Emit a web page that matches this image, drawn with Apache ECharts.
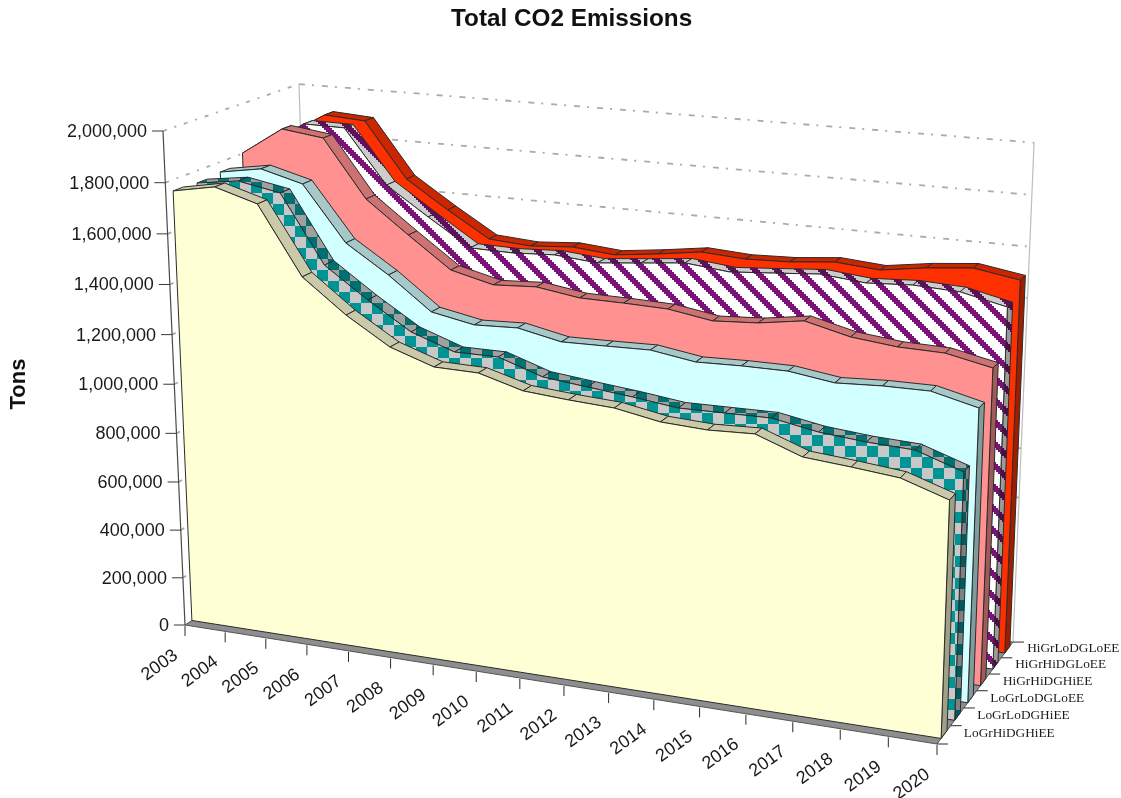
<!DOCTYPE html>
<html>
<head>
<meta charset="utf-8">
<title>Total CO2 Emissions</title>
<script src="https://cdn.jsdelivr.net/npm/echarts@6/dist/echarts.min.js"></script>
<style>
html,body{margin:0;padding:0;background:#fff}
#main{width:1121px;height:798px}
</style>
</head>
<body>
<div id="main"></div>
<script>
var years = [2003,2004,2005,2006,2007,2008,2009,2010,2011,2012,2013,2014,2015,2016,2017,2018,2019,2020];
var tonTicks = [0,200000,400000,600000,800000,1000000,1200000,1400000,1600000,1800000,2000000];
var tonLabels = ['0','200,000','400,000','600,000','800,000','1,000,000','1,200,000','1,400,000','1,600,000','1,800,000','2,000,000'];
var seriesNames = ['LoGrHiDGHiEE','LoGrLoDGHiEE','LoGrLoDGLoEE','HiGrHiDGHiEE','HiGrHiDGLoEE','HiGrLoDGLoEE'];

// 前后顺序和 seriesNames 一致, 最前面的是黄色
var loGrHiDGHiEE = [1757000,1788000,1738000,1471000,1340000,1234000,1176000,1173000,1124000,1110000,1100000,1068000,1059000,1066000,1001000,986000,968000,909000];
var loGrLoDGHiEE = [1752000,1775000,1744000,1476000,1356000,1248000,1188000,1188000,1130000,1111000,1093000,1071000,1073000,1075000,1043000,1027000,1019000,959000];
var loGrLoDGLoEE = [1760000,1788000,1743000,1524000,1413000,1283000,1250000,1257000,1221000,1224000,1228000,1201000,1206000,1206000,1181000,1190000,1191000,1148000];
var hiGrHiDGHiEE = [1802000,1914000,1892000,1662000,1533000,1409000,1367000,1377000,1351000,1349000,1344000,1316000,1327000,1354000,1311000,1292000,1288000,1251000];
var hiGrHiDGLoEE = [1789000,1902000,1900000,1682000,1568000,1458000,1455000,1464000,1449000,1466000,1484000,1466000,1479000,1493000,1476000,1486000,1478000,1438000];
var hiGrLoDGLoEE = [1809000,1907000,1896000,1671000,1559000,1455000,1443000,1456000,1441000,1462000,1487000,1476000,1482000,1499000,1485000,1511000,1528000,1499000];
var seriesValues = [loGrHiDGHiEE,loGrLoDGHiEE,loGrLoDGLoEE,hiGrHiDGHiEE,hiGrHiDGLoEE,hiGrLoDGLoEE];

// 隐藏的 grid 当作 0..1 的单位空间, 再投影到屏幕
var GRID = 700;
var O = [185,625], X = [937,744], Y = [163,131], Z = [313.1,541.5];
var wa = 0.903, wb = 0.9508, wc = 1.085;

function project(u, v, w) {
	var d = 1 + u * (wa - 1) + v * (wb - 1) + w * (wc - 1);
	var x = O[0] + u * (wa * X[0] - O[0]) + v * (wb * Y[0] - O[0]) + w * (wc * Z[0] - O[0]);
	var y = O[1] + u * (wa * X[1] - O[1]) + v * (wb * Y[1] - O[1]) + w * (wc * Z[1] - O[1]);
	return [x / d, y / d];
}

// 通过 echarts 的坐标轴换算, 再加上深度 w
function toScreen(api, year, tons, w) {
	var pt = api.coord([year, tons]);
	return project(pt[0] / GRID, 1 - pt[1] / GRID, w);
}

function checker(c1, c2) {
	var cv = document.createElement('canvas');
	cv.width = cv.height = 22;
	var ctx = cv.getContext('2d');
	ctx.fillStyle = c1;
	ctx.fillRect(0, 0, 22, 22);
	ctx.fillStyle = c2;
	ctx.fillRect(9, 6, 11, 11);
	ctx.fillRect(20, 17, 11, 11);
	ctx.fillRect(-2, 17, 11, 11);
	ctx.fillRect(20, -5, 11, 11);
	ctx.fillRect(-2, -5, 11, 11);
	return { image: cv, repeat: 'repeat' };
}

function hatch(c1, c2) {
	var cv = document.createElement('canvas');
	cv.width = cv.height = 22;
	var ctx = cv.getContext('2d');
	ctx.fillStyle = c1;
	ctx.fillRect(0, 0, 22, 22);
	ctx.fillStyle = c2;
	for (var k = 0; k < 11; k++) {
		ctx.fillRect(k * 2 - 24, k * 2, 8, 2);
		ctx.fillRect(k * 2 - 2, k * 2, 8, 2);
		ctx.fillRect(k * 2 + 20, k * 2, 8, 2);
	}
	return { image: cv, repeat: 'repeat' };
}

var faces = [
	{ face: '#ffffd5', top: '#cacaaa', side: '#a0a088' },
	{ face: checker('#c8c8c8', '#009494'), top: checker('#a0a0a0', '#007070'), side: checker('#808080', '#005c5c') },
	{ face: '#d2ffff', top: '#a6c8c8', side: '#7f9c9c' },
	{ face: '#ff9191', top: '#cc7272', side: '#a05a5a' },
	{ face: hatch('#ffffff', '#7a1278'), top: hatch('#cccccc', '#620e60'), side: hatch('#9a9a9a', '#4e0b4c') },
	{ face: '#ff3000', top: '#cc2600', side: '#a01e00' }
];

var EDGE = '#2b2b2b';

function poly(points, fill, stroke) {
	return {
		type: 'polygon',
		shape: { points: points },
		style: { fill: fill, stroke: stroke === undefined ? EDGE : stroke, lineWidth: 1, lineJoin: 'round' }
	};
}

function line(a, b, color, width, dash) {
	return {
		type: 'line',
		shape: { x1: a[0], y1: a[1], x2: b[0], y2: b[1] },
		style: { stroke: color, lineWidth: width, lineDash: dash || null }
	};
}

function label(x, y, text, font, align, rot) {
	return {
		type: 'text',
		x: x,
		y: y,
		rotation: rot || 0,
		style: { text: text, font: font, fill: '#1a1a1a', align: align, verticalAlign: 'middle' }
	};
}

function renderWalls(params, api) {
	var first = years[0], last = years[years.length - 1];
	var kids = [];
	var corner = function (yr, tons, w) { return toScreen(api, yr, tons, w); };
	var top = tonTicks[tonTicks.length - 1];
	kids.push(poly([corner(first, 0, 0), corner(last, 0, 0), corner(last, 0, 1), corner(first, 0, 1)], '#8e8e8e', '#555'));
	for (var i = 1; i < tonTicks.length; i++) {
		kids.push(line(corner(first, tonTicks[i], 0), corner(first, tonTicks[i], 1), '#aaaaaa', 1.8, [4, 8, 2, 8]));
		kids.push(line(corner(first, tonTicks[i], 1), corner(last, tonTicks[i], 1), '#aaaaaa', 1.8, [6, 7, 2, 8]));
	}
	kids.push(line(corner(first, 0, 1), corner(first, top, 1), '#bdbdbd', 1.2));
	kids.push(line(corner(last, 0, 1), corner(last, top, 1), '#bdbdbd', 1.2));
	return { type: 'group', children: kids };
}

function renderAxes(params, api) {
	var first = years[0], last = years[years.length - 1];
	var top = tonTicks[tonTicks.length - 1];
	var kids = [];
	var i, p;
	kids.push(line(toScreen(api, first, 0, 0), toScreen(api, first, top, 0), '#4a4a4a', 1.2));
	for (i = 0; i < tonTicks.length; i++) {
		p = toScreen(api, first, tonTicks[i], 0);
		kids.push(line([p[0] - 11, p[1]], p, '#3a3a3a', 1));
		kids.push(label(p[0] - 16, p[1] + 1, tonLabels[i], '18px "Liberation Sans"', 'right'));
	}
	for (i = 0; i < years.length; i++) {
		p = toScreen(api, years[i], 0, 0);
		kids.push(line([p[0], p[1] + 1], [p[0], p[1] + 11], '#2a2a2a', 1));
		kids.push(label(p[0] - 9, p[1] + 28.5, String(years[i]), '18px "Liberation Sans"', 'right', 36 * Math.PI / 180));
	}
	for (i = 0; i <= seriesNames.length; i++) {
		p = toScreen(api, last, 0, i / seriesNames.length);
		kids.push(line(p, [p[0] + 11, p[1]], '#2a2a2a', 1));
		if (i < seriesNames.length) {
			var c = toScreen(api, last, 0, (i + 0.5) / seriesNames.length);
			kids.push(label(c[0] + 20, c[1] - 1, seriesNames[i], '13.3px "Liberation Serif"', 'left'));
		}
	}
	return { type: 'group', children: kids };
}

function makeRibbon(idx) {
	var vals = seriesValues[idx];
	var look = faces[idx];
	var w0 = (idx + 0.3) / seriesNames.length;
	var w1 = (idx + 0.73) / seriesNames.length;
	return function (params, api) {
		// 整条带子只在最后一个点画一次
		if (params.dataIndex !== vals.length - 1) {
			return;
		}
		var kids = [];
		var front = [], back = [];
		for (var j = 0; j < vals.length; j++) {
			front.push(toScreen(api, years[j], vals[j], w0));
			back.push(toScreen(api, years[j], vals[j], w1));
		}
		for (j = 0; j < vals.length - 1; j++) {
			kids.push(poly([front[j], front[j + 1], back[j + 1], back[j]], look.top));
		}
		var n = vals.length - 1;
		var baseL = toScreen(api, years[0], 0, w0);
		var baseR = toScreen(api, years[n], 0, w0);
		var baseB = toScreen(api, years[n], 0, w1);
		kids.push(poly([front[n], back[n], baseB, baseR], look.side));
		kids.push(poly(front.concat([baseR, baseL]), look.face));
		return { type: 'group', children: kids };
	};
}

var seriesList = [{
	type: 'custom',
	silent: true,
	renderItem: renderWalls,
	data: [[years[0], 0]]
}];
for (var s = seriesNames.length - 1; s >= 0; s--) {
	seriesList.push({
		name: seriesNames[s],
		type: 'custom',
		silent: true,
		renderItem: makeRibbon(s),
		data: years.map(function (y, k) { return [y, seriesValues[s][k]]; })
	});
}
seriesList.push({
	type: 'custom',
	silent: true,
	renderItem: renderAxes,
	data: [[years[0], 0]]
});

var chart = echarts.init(document.getElementById('main'), null, { renderer: 'canvas' });
chart.setOption({
	animation: false,
	backgroundColor: '#ffffff',
	title: {
		text: 'Total CO2 Emissions',
		left: 446,
		top: 2,
		textStyle: { fontFamily: 'Liberation Sans', fontWeight: 'bold', fontSize: 24.3, color: '#111' }
	},
	grid: { left: 0, top: 0, width: GRID, height: GRID },
	xAxis: { type: 'value', min: years[0], max: years[years.length - 1], show: false },
	yAxis: { type: 'value', min: tonTicks[0], max: tonTicks[tonTicks.length - 1], show: false },
	graphic: [{
		type: 'text',
		x: 19,
		y: 384,
		rotation: Math.PI / 2,
		style: { text: 'Tons', font: 'bold 22px "Liberation Sans"', fill: '#111', align: 'center', verticalAlign: 'middle' }
	}],
	series: seriesList
});
</script>
</body>
</html>
